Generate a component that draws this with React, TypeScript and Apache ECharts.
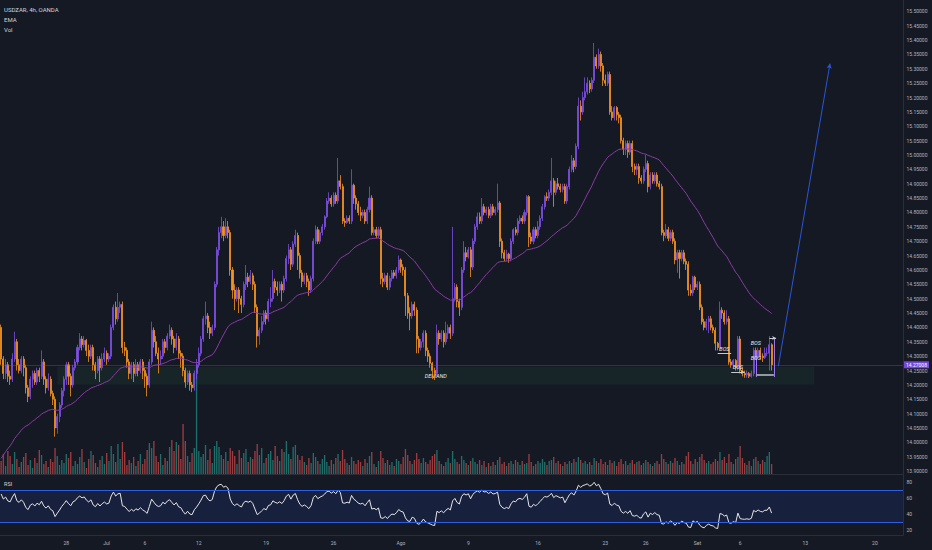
import React, { useEffect, useRef } from 'react';
import * as echarts from 'echarts';

// ---- data (USDZAR, 4h, OANDA) ----
const firstOpen = 14.40;
const closes = [
  14.29, 14.24, 14.27, 14.23, 14.22, 14.29, 14.35, 14.27, 14.25, 14.29,
  14.26, 14.19, 14.16, 14.22, 14.24, 14.21, 14.25, 14.23, 14.28, 14.22,
  14.19, 14.22, 14.17, 14.15, 14.05, 14.09, 14.13, 14.18, 14.22,
  14.27, 14.23, 14.20, 14.26, 14.28, 14.33, 14.36, 14.34, 14.355, 14.32,
  14.30, 14.33, 14.27, 14.25, 14.29, 14.26, 14.29, 14.31, 14.29, 14.30,
  14.40, 14.47, 14.43, 14.47, 14.48, 14.33, 14.32, 14.28, 14.24, 14.27,
  14.24, 14.27, 14.25, 14.28, 14.25, 14.23, 14.20, 14.28, 14.39, 14.35,
  14.31, 14.29, 14.30, 14.35, 14.33, 14.37, 14.39, 14.36, 14.33, 14.36,
  14.31, 14.30, 14.25, 14.21, 14.24, 14.20, 14.19, 14.24, 14.27, 14.31,
  14.36, 14.43, 14.44, 14.40, 14.38, 14.40, 14.55, 14.67, 14.73, 14.75,
  14.72, 14.75, 14.73, 14.60, 14.53, 14.50, 14.53, 14.50, 14.48, 14.55,
  14.575, 14.56, 14.58, 14.55, 14.47, 14.37, 14.39, 14.42, 14.45, 14.43,
  14.49, 14.50, 14.56, 14.54, 14.53, 14.55, 14.53, 14.57, 14.64, 14.67,
  14.62, 14.69, 14.72, 14.65, 14.59, 14.56, 14.58, 14.56, 14.53, 14.57,
  14.70, 14.74, 14.70, 14.73, 14.75, 14.785, 14.84, 14.85, 14.83, 14.86,
  14.84, 14.91, 14.89, 14.77, 14.765, 14.78, 14.77, 14.895, 14.85, 14.83,
  14.80, 14.79, 14.80, 14.77, 14.81, 14.85, 14.73, 14.74, 14.72, 14.74,
  14.57, 14.56, 14.58, 14.54, 14.57, 14.59, 14.58, 14.60, 14.635, 14.61,
  14.60, 14.51, 14.45, 14.44, 14.48, 14.46, 14.36, 14.33, 14.35, 14.38,
  14.32, 14.30, 14.275, 14.25, 14.24, 14.38, 14.36, 14.38, 14.35, 14.38,
  14.40, 14.38, 14.50, 14.54, 14.49, 14.47, 14.60, 14.66, 14.645, 14.67,
  14.61, 14.70, 14.75, 14.785, 14.77, 14.82, 14.80, 14.81, 14.79, 14.82,
  14.80, 14.81, 14.833, 14.70, 14.66, 14.64, 14.655, 14.64, 14.70, 14.74,
  14.73, 14.77, 14.78, 14.77, 14.80, 14.855, 14.715, 14.70, 14.74, 14.72,
  14.75, 14.78, 14.82, 14.855, 14.85, 14.87, 14.91, 14.87, 14.90, 14.89,
  14.88, 14.89, 14.84, 14.89, 14.95, 14.98, 14.96, 15.03, 15.17, 15.15,
  15.20, 15.22, 15.25, 15.23, 15.26, 15.34, 15.31, 15.35, 15.31, 15.26,
  15.25, 15.28, 15.15, 15.13, 15.165, 15.14, 15.13, 15.05, 15.02, 15.04,
  15.01, 15.04, 14.96, 14.95, 14.96, 14.92, 14.91, 14.95, 14.97, 14.89,
  14.93, 14.91, 14.93, 14.90, 14.89, 14.73, 14.72, 14.74, 14.71, 14.73,
  14.70, 14.635, 14.66, 14.64, 14.66, 14.63, 14.62, 14.53, 14.52, 14.575,
  14.54, 14.55, 14.47, 14.42, 14.40, 14.42, 14.43, 14.40, 14.39, 14.345,
  14.33, 14.46, 14.45, 14.42, 14.43, 14.28, 14.27, 14.285, 14.26, 14.36,
  14.25, 14.24, 14.235, 14.24, 14.23, 14.24, 14.32, 14.30, 14.32, 14.30,
  14.295, 14.31, 14.31, 14.34, 14.27008,
];
const highs = [
  14.41, 14.30, 14.29, 14.28, 14.25, 14.31, 14.385, 14.36, 14.29, 14.30,
  14.30, 14.27, 14.20, 14.23, 14.25, 14.25, 14.26, 14.26, 14.32, 14.29,
  14.23, 14.24, 14.23, 14.18, 14.16, 14.10, 14.14, 14.19, 14.23,
  14.28, 14.28, 14.24, 14.27, 14.29, 14.34, 14.38, 14.37, 14.37, 14.36,
  14.34, 14.34, 14.34, 14.28, 14.30, 14.30, 14.31, 14.33, 14.32, 14.31,
  14.41, 14.48, 14.49, 14.52, 14.49, 14.49, 14.35, 14.33, 14.29, 14.28,
  14.28, 14.29, 14.28, 14.29, 14.29, 14.26, 14.24, 14.29, 14.42, 14.40,
  14.37, 14.33, 14.32, 14.36, 14.36, 14.38, 14.41, 14.40, 14.37, 14.38,
  14.37, 14.32, 14.31, 14.26, 14.25, 14.25, 14.21, 14.25, 14.29, 14.33,
  14.37, 14.44, 14.49, 14.45, 14.42, 14.41, 14.56, 14.68, 14.75, 14.785,
  14.77, 14.78, 14.77, 14.74, 14.61, 14.55, 14.54, 14.54, 14.51, 14.56,
  14.617, 14.59, 14.60, 14.59, 14.56, 14.48, 14.40, 14.44, 14.46, 14.46,
  14.50, 14.54, 14.60, 14.57, 14.56, 14.56, 14.56, 14.58, 14.65, 14.69,
  14.68, 14.70, 14.74, 14.73, 14.66, 14.60, 14.59, 14.59, 14.57, 14.58,
  14.71, 14.755, 14.75, 14.74, 14.76, 14.79, 14.85, 14.87, 14.86, 14.87,
  14.87, 14.99, 14.93, 14.90, 14.78, 14.79, 14.79, 14.95, 14.90, 14.86,
  14.84, 14.82, 14.81, 14.81, 14.82, 14.89, 14.86, 14.75, 14.75, 14.75,
  14.75, 14.59, 14.59, 14.59, 14.58, 14.60, 14.60, 14.61, 14.65, 14.64,
  14.62, 14.61, 14.52, 14.47, 14.49, 14.49, 14.47, 14.37, 14.36, 14.39,
  14.39, 14.33, 14.31, 14.28, 14.26, 14.41, 14.39, 14.39, 14.39, 14.42,
  14.41, 14.41, 14.75, 14.555, 14.55, 14.50, 14.61, 14.70, 14.68, 14.68,
  14.68, 14.71, 14.76, 14.80, 14.80, 14.85, 14.83, 14.82, 14.82, 14.83,
  14.83, 14.82, 14.90, 14.84, 14.71, 14.67, 14.67, 14.66, 14.71, 14.745,
  14.75, 14.78, 14.79, 14.79, 14.81, 14.86, 14.86, 14.73, 14.75, 14.75,
  14.77, 14.79, 14.83, 14.86, 14.87, 14.88, 14.99, 14.92, 14.91, 14.92,
  14.90, 14.90, 14.90, 14.90, 14.96, 15.00, 14.99, 15.04, 15.20, 15.19,
  15.22, 15.27, 15.27, 15.26, 15.27, 15.39, 15.35, 15.37, 15.36, 15.32,
  15.28, 15.29, 15.29, 15.17, 15.17, 15.17, 15.15, 15.14, 15.06, 15.05,
  15.05, 15.05, 15.05, 14.97, 14.97, 14.97, 14.93, 14.96, 15.00, 14.98,
  14.94, 14.94, 14.94, 14.94, 14.91, 14.90, 14.74, 14.76, 14.75, 14.74,
  14.74, 14.71, 14.67, 14.67, 14.67, 14.67, 14.64, 14.63, 14.55, 14.58,
  14.58, 14.56, 14.56, 14.48, 14.43, 14.43, 14.44, 14.44, 14.41, 14.40,
  14.35, 14.49, 14.47, 14.46, 14.46, 14.44, 14.29, 14.29, 14.29, 14.37,
  14.37, 14.26, 14.25, 14.25, 14.245, 14.25, 14.33, 14.33, 14.33, 14.33,
  14.31, 14.33, 14.33, 14.37, 14.345,
];
const lows = [
  14.27, 14.22, 14.22, 14.21, 14.20, 14.21, 14.28, 14.25, 14.24, 14.24,
  14.23, 14.17, 14.14, 14.15, 14.19, 14.20, 14.20, 14.21, 14.22, 14.20,
  14.17, 14.18, 14.16, 14.13, 14.02, 14.03, 14.07, 14.12, 14.16,
  14.20, 14.20, 14.16, 14.19, 14.25, 14.27, 14.32, 14.32, 14.33, 14.30,
  14.28, 14.29, 14.25, 14.22, 14.24, 14.21, 14.25, 14.28, 14.27, 14.28,
  14.29, 14.39, 14.41, 14.42, 14.45, 14.31, 14.30, 14.26, 14.22, 14.22,
  14.21, 14.23, 14.23, 14.24, 14.22, 14.19, 14.16, 14.19, 14.27, 14.33,
  14.30, 14.24, 14.27, 14.29, 14.31, 14.32, 14.36, 14.34, 14.31, 14.32,
  14.29, 14.26, 14.23, 14.19, 14.20, 14.18, 14.175, 14.18, 14.22, 14.26,
  14.30, 14.35, 14.41, 14.38, 14.36, 14.37, 14.39, 14.54, 14.65, 14.71,
  14.70, 14.71, 14.71, 14.58, 14.50, 14.46, 14.49, 14.45, 14.45, 14.47,
  14.53, 14.54, 14.55, 14.53, 14.45, 14.33, 14.34, 14.38, 14.41, 14.41,
  14.42, 14.47, 14.49, 14.52, 14.51, 14.52, 14.49, 14.52, 14.56, 14.62,
  14.60, 14.61, 14.68, 14.60, 14.57, 14.54, 14.55, 14.54, 14.51, 14.52,
  14.56, 14.69, 14.69, 14.69, 14.72, 14.74, 14.78, 14.83, 14.82, 14.82,
  14.83, 14.83, 14.88, 14.76, 14.75, 14.76, 14.76, 14.76, 14.83, 14.81,
  14.79, 14.77, 14.78, 14.76, 14.76, 14.80, 14.72, 14.72, 14.71, 14.71,
  14.55, 14.54, 14.55, 14.53, 14.53, 14.56, 14.57, 14.57, 14.59, 14.59,
  14.58, 14.44, 14.43, 14.39, 14.43, 14.44, 14.31, 14.31, 14.32, 14.33,
  14.30, 14.28, 14.26, 14.22, 14.217, 14.23, 14.34, 14.35, 14.33, 14.34,
  14.36, 14.36, 14.37, 14.49, 14.47, 14.44, 14.46, 14.59, 14.63, 14.64,
  14.575, 14.60, 14.69, 14.74, 14.76, 14.76, 14.79, 14.79, 14.78, 14.78,
  14.79, 14.79, 14.80, 14.68, 14.64, 14.63, 14.63, 14.625, 14.63, 14.69,
  14.72, 14.72, 14.76, 14.76, 14.76, 14.79, 14.68, 14.69, 14.69, 14.71,
  14.71, 14.74, 14.77, 14.81, 14.84, 14.84, 14.86, 14.82, 14.86, 14.88,
  14.87, 14.87, 14.83, 14.83, 14.88, 14.94, 14.94, 14.95, 15.02, 15.12,
  15.14, 15.19, 15.21, 15.215, 15.22, 15.25, 15.30, 15.30, 15.29, 15.24,
  15.24, 15.24, 15.14, 15.12, 15.12, 15.12, 15.11, 15.04, 15.00, 15.00,
  14.99, 15.00, 14.94, 14.93, 14.93, 14.90, 14.90, 14.90, 14.94, 14.87,
  14.88, 14.90, 14.90, 14.89, 14.88, 14.72, 14.70, 14.71, 14.70, 14.70,
  14.69, 14.62, 14.59, 14.57, 14.63, 14.62, 14.60, 14.51, 14.51, 14.51,
  14.53, 14.53, 14.46, 14.41, 14.39, 14.39, 14.38, 14.39, 14.38, 14.32,
  14.32, 14.32, 14.43, 14.41, 14.41, 14.27, 14.26, 14.26, 14.25, 14.25,
  14.24, 14.23, 14.225, 14.225, 14.224, 14.225, 14.23, 14.29, 14.29, 14.29,
  14.28, 14.29, 14.30, 14.25, 14.25,
];
const volumes = [
  1300, 2000, 800, 2300, 1800, 1000, 2200, 1500, 700, 1200,
  1700, 2100, 900, 1400, 600, 1600, 1100, 2400, 1900, 1000,
  1300, 700, 1500, 1200, 2600, 1800, 900, 1400, 1100, 2000,
  1600, 2200, 800, 1300, 1000, 1700, 2500, 1200, 600, 1500,
  2300, 1900, 1100, 700, 1400, 1800, 1000, 2100, 1300, 2800,
  2000, 1200, 3000, 1500, 3200, 2200, 900, 1400, 1100, 1700,
  800, 1300, 2000, 1000, 1500, 2400, 3100, 2600, 3300, 1800,
  1200, 2000, 900, 1600, 1300, 2700, 3400, 2300, 3200, 2900,
  1500, 5000, 3300, 1800, 1200, 2100, 2600, 10800, 2300, 1700,
  2000, 2900, 1400, 2500, 1100, 2800, 3300, 2700, 1900, 1500,
  2200, 1300, 2600, 2300, 1800, 1000, 2400, 1600, 2100, 2500,
  1200, 1700, 1500, 2300, 3000, 1900, 2600, 1100, 1600, 2000,
  2300, 1400, 2800, 1800, 1300, 2500, 2200, 3300, 2000, 1500,
  2700, 2900, 1900, 1400, 1800, 1200, 900, 1600, 1100, 2100,
  1700, 1300, 1000, 1500, 1900, 1200, 800, 1400, 1000, 1600,
  2000, 1300, 2400, 1500, 1100, 900, 1700, 1300, 1000, 1400,
  1200, 800, 1500, 1100, 1800, 2200, 1000, 700, 1300, 2300,
  1600, 1100, 1400, 900, 1200, 800, 1500, 1300, 1000, 1700,
  2500, 1900, 1300, 1000, 1400, 2100, 1500, 1100, 1600, 1200,
  1000, 1400, 1800, 2000, 2400, 1300, 1000, 800, 1200, 1600,
  1100, 2300, 1500, 1200, 1000, 1800, 1400, 1100, 900, 1300,
  1600, 1200, 1000, 1400, 900, 1300, 700, 1100, 800, 1200,
  900, 1400, 1700, 1000, 1200, 800, 1100, 1300, 1000, 1400,
  1200, 900, 1300, 1000, 1100, 2000, 1200, 800, 1000, 1300,
  1100, 1500, 1200, 900, 1300, 1400, 1700, 1100, 1300, 1000,
  800, 1200, 1000, 1300, 1100, 1500, 1200, 1700, 1400, 1100,
  1300, 1000, 1200, 900, 1600, 1300, 1100, 1500, 1000, 1200,
  900, 1400, 1100, 1300, 800, 1200, 1500, 1000, 1300, 900,
  1100, 1400, 1000, 1200, 1300, 900, 1100, 1400, 1200, 1000,
  800, 1100, 1300, 1000, 2000, 1500, 1200, 1000, 1300, 1100,
  1600, 1300, 900, 1200, 1000, 1800, 2200, 1300, 1000, 1500,
  1200, 1700, 2000, 1400, 1100, 1300, 1000, 1200, 1500, 1300,
  2200, 1400, 1700, 1100, 2000, 1200, 1000, 1500, 1700, 2800,
  1600, 1100, 900, 1300, 800, 1500, 1700, 1300, 1000, 1400,
  1200, 1800, 2200, 1000,
];

const totalSlots = 402;
const timeLabelIndex = [29, 47, 64, 88, 118, 148, 178, 208, 239, 269, 287, 310, 329, 358, 389];
const timeLabelText = ['28', 'Jul', '6', '12', '19', '26', 'Ago', '9', '16', '23', '26', 'Set', '6', '13', '20'];
const priceTicks = [
  13.9, 13.95, 14.0, 14.05, 14.1, 14.15, 14.2, 14.25, 14.3, 14.35, 14.4,
  14.45, 14.5, 14.55, 14.6, 14.65, 14.7, 14.75, 14.8, 14.85, 14.9, 14.95,
  15.0, 15.05, 15.1, 15.15, 15.2, 15.25, 15.3, 15.35, 15.4, 15.45, 15.5,
];
const rsiTicks = [20, 40, 60, 80];
const emaPeriod = 50;
const emaSeed = 13.93;
const rsiPeriod = 14;
const rsiSeedGain = 0.025;
const rsiSeedLoss = 0.005;
const lastPrice = 14.27008;
const demandZone = { fromIdx: 25, toIdx: 362, top: 14.262, bottom: 14.201 };

const UP = '#7e4fe3';
const DOWN = '#f59322';
const AXIS_TXT = '#b2b5be';
const SEP = '#2a2e39';
const FONT = 'Roboto, "Noto Sans", sans-serif';

export default function App() {
  const ref = useRef<HTMLDivElement>(null);
  useEffect(() => {
    document.body.style.margin = '0';
    document.body.style.background = '#151924';
    if (!ref.current) return;
    const chart = echarts.init(ref.current, undefined, { renderer: 'svg' });

    const slots = Array.from({ length: totalSlots }, (_, i) => String(i));
    const opens = closes.map((c, i) => (i === 0 ? firstOpen : closes[i - 1]));
    const candles = closes.map((c, i) => {
      const o = opens[i];
      return [o, c, Math.min(lows[i], o, c), Math.max(highs[i], o, c)];
    });
    // EMA
    const k = 2 / (emaPeriod + 1);
    let e = emaSeed;
    const ema = closes.map((c) => {
      e = e + k * (c - e);
      return +e.toFixed(5);
    });
    // RSI (Wilder)
    let ag = rsiSeedGain;
    let al = rsiSeedLoss;
    const rsi = closes.map((c, i) => {
      const ch = c - opens[i];
      ag = (ag * (rsiPeriod - 1) + Math.max(ch, 0)) / rsiPeriod;
      al = (al * (rsiPeriod - 1) + Math.max(-ch, 0)) / rsiPeriod;
      return +(100 - 100 / (1 + ag / al)).toFixed(2);
    });
    const vol = volumes.map((v, i) => ({
      value: v,
      itemStyle: { color: closes[i] >= opens[i] ? 'rgba(38,166,154,0.6)' : 'rgba(239,83,80,0.62)' },
    }));

    const bosLabel = {
      show: true,
      formatter: 'BOS',
      position: 'insideMiddleTop',
      distance: 1.5,
      color: '#e8e8e8',
      fontSize: 5.5,
      fontStyle: 'italic',
      fontFamily: FONT,
    };
    const annLine = { color: '#c8cad0', width: 1, type: 'solid' };

    const option: any = {
      animation: false,
      backgroundColor: '#151924',
      textStyle: { fontFamily: FONT },
      grid: [
        { left: 0, top: 0, width: 903, height: 474 },
        { left: 0, top: 474, width: 903, height: 61 },
      ],
      xAxis: [
        {
          type: 'category', gridIndex: 0, data: slots, boundaryGap: true,
          axisLine: { show: true, lineStyle: { color: SEP } },
          axisTick: { show: false }, axisLabel: { show: false }, splitLine: { show: false },
        },
        {
          type: 'category', gridIndex: 1, data: slots, boundaryGap: true,
          axisLine: { show: true, lineStyle: { color: SEP } },
          axisTick: { show: false }, splitLine: { show: false },
          axisLabel: {
            show: true,
            interval: (i: number) => timeLabelIndex.includes(i),
            formatter: (v: string) => {
              const j = timeLabelIndex.indexOf(Number(v));
              return j >= 0 ? timeLabelText[j] : '';
            },
            color: AXIS_TXT, fontSize: 5, margin: 5, fontFamily: FONT,
          },
        },
      ],
      yAxis: [
        {
          type: 'value', gridIndex: 0, position: 'right', min: 13.89, max: 15.5393,
          axisLine: { show: true, lineStyle: { color: SEP } },
          axisTick: { show: false }, splitLine: { show: false },
          axisLabel: {
            customValues: priceTicks,
            formatter: (v: number) => v.toFixed(5),
            color: AXIS_TXT, fontSize: 5, margin: 3.5, fontFamily: FONT,
          },
        },
        { type: 'value', gridIndex: 0, min: 0, max: 47400, show: false },
        {
          type: 'value', gridIndex: 1, position: 'right', min: 13.75, max: 90,
          axisLine: { show: true, lineStyle: { color: SEP } },
          axisTick: { show: false }, splitLine: { show: false },
          axisLabel: {
            customValues: rsiTicks,
            color: AXIS_TXT, fontSize: 5, margin: 3.5, fontFamily: FONT,
          },
        },
      ],
      graphic: [
        { type: 'text', x: 4, y: 9.5, style: { text: 'USDZAR, 4h, OANDA', fill: '#d1d4dc', fontSize: 6, fontFamily: FONT, verticalAlign: 'middle', textVerticalAlign: 'middle' } },
        { type: 'text', x: 4, y: 19.5, style: { text: 'EMA', fill: '#d1d4dc', fontSize: 6, fontFamily: FONT, verticalAlign: 'middle', textVerticalAlign: 'middle' } },
        { type: 'text', x: 4, y: 29, style: { text: 'Vol', fill: '#d1d4dc', fontSize: 6, fontFamily: FONT, verticalAlign: 'middle', textVerticalAlign: 'middle' } },
        { type: 'text', x: 4, y: 483.5, style: { text: 'RSI', fill: '#d1d4dc', fontSize: 5.5, fontFamily: FONT, verticalAlign: 'middle', textVerticalAlign: 'middle' } },
      ],
      series: [
        {
          type: 'bar', name: 'Vol', xAxisIndex: 0, yAxisIndex: 1, data: vol,
          barWidth: '60%', z: 1, silent: true,
        },
        {
          type: 'candlestick', name: 'USDZAR', xAxisIndex: 0, yAxisIndex: 0, data: candles,
          barWidth: '68%', z: 3,
          itemStyle: { color: UP, color0: DOWN, borderColor: UP, borderColor0: DOWN, borderWidth: 0.8 },
          markArea: {
            silent: true,
            itemStyle: { color: 'rgba(40,150,90,0.09)' },
            label: { show: true, position: 'inside', color: '#e6e6e6', fontSize: 5.5, fontStyle: 'italic', fontFamily: FONT },
            data: [[
              { name: 'DEMAND', coord: [demandZone.fromIdx, demandZone.top] },
              { coord: [demandZone.toIdx, demandZone.bottom] },
            ]],
          },
          markLine: {
            silent: true, symbol: ['none', 'none'], animation: false,
            label: { show: false },
            data: [
              {
                yAxis: lastPrice,
                lineStyle: { color: 'rgba(126,79,227,0.35)', width: 1, type: 'solid' },
                label: {
                  show: true, position: 'end', formatter: lastPrice.toFixed(5), distance: 1,
                  color: '#ffffff', backgroundColor: '#7248d6', padding: [1, 2], fontSize: 5, fontFamily: FONT,
                },
              },
              [
                { coord: [319, 14.311], lineStyle: annLine, label: bosLabel },
                { coord: [325, 14.311] },
              ],
              [
                { coord: [325, 14.245], lineStyle: annLine, label: bosLabel },
                { coord: [331, 14.245], symbol: 'arrow', symbolSize: [3, 4] },
              ],
              [
                { coord: [336, 14.314], lineStyle: { color: '#9a76e8', width: 1, type: 'solid' } },
                { coord: [336, 14.227] },
              ],
              [
                { coord: [336, 14.236], lineStyle: { color: '#9598a1', width: 2, type: 'solid' } },
                { coord: [344, 14.236] },
              ],
              [
                { coord: [344, 14.36], lineStyle: { color: '#9a76e8', width: 1, type: 'solid' } },
                { coord: [344, 14.227] },
              ],
              [
                { coord: [342, 14.363], lineStyle: annLine },
                { coord: [345, 14.363], symbol: 'arrow', symbolSize: [3, 4] },
              ],
            ],
          },
          markPoint: {
            silent: true, symbol: 'rect', symbolSize: 1,
            itemStyle: { color: 'rgba(0,0,0,0)' },
            label: { show: true, formatter: 'BOS', position: 'inside', color: '#e8e8e8', fontSize: 5.5, fontStyle: 'italic', fontFamily: FONT },
            data: [
              { coord: [336, 14.346] },
              { coord: [336, 14.294] },
            ],
          },
        },
        {
          type: 'line', name: 'EMA', xAxisIndex: 0, yAxisIndex: 0, data: ema,
          showSymbol: false, z: 4, silent: true,
          lineStyle: { color: '#8b3ba6', width: 1 },
          markLine: {
            silent: true, symbol: ['none', 'none'], animation: false,
            label: { show: false },
            data: [[
              { coord: [346, 14.265], lineStyle: { color: '#2b56d4', width: 1, type: 'solid' } },
              { coord: [369, 15.318], symbol: 'arrow', symbolSize: [4, 5] },
            ]],
          },
        },
        {
          type: 'line', name: 'RSI', xAxisIndex: 1, yAxisIndex: 2, data: rsi,
          showSymbol: false, z: 4, silent: true,
          lineStyle: { color: '#e6e6e6', width: 1 },
          markArea: {
            silent: true,
            itemStyle: { color: 'rgba(41,98,255,0.12)' },
            data: [[{ yAxis: 30 }, { yAxis: 70 }]],
          },
          markLine: {
            silent: true, symbol: ['none', 'none'], animation: false,
            label: { show: false },
            lineStyle: { color: '#2f5fe0', width: 1, type: 'solid' },
            data: [{ yAxis: 70 }, { yAxis: 30 }],
          },
        },
      ],
    };
    chart.setOption(option);
    return () => chart.dispose();
  }, []);

  return (
    <div
      ref={ref}
      style={{ position: 'absolute', left: 0, top: 0, width: 932, height: 550, background: '#151924' }}
    />
  );
}
